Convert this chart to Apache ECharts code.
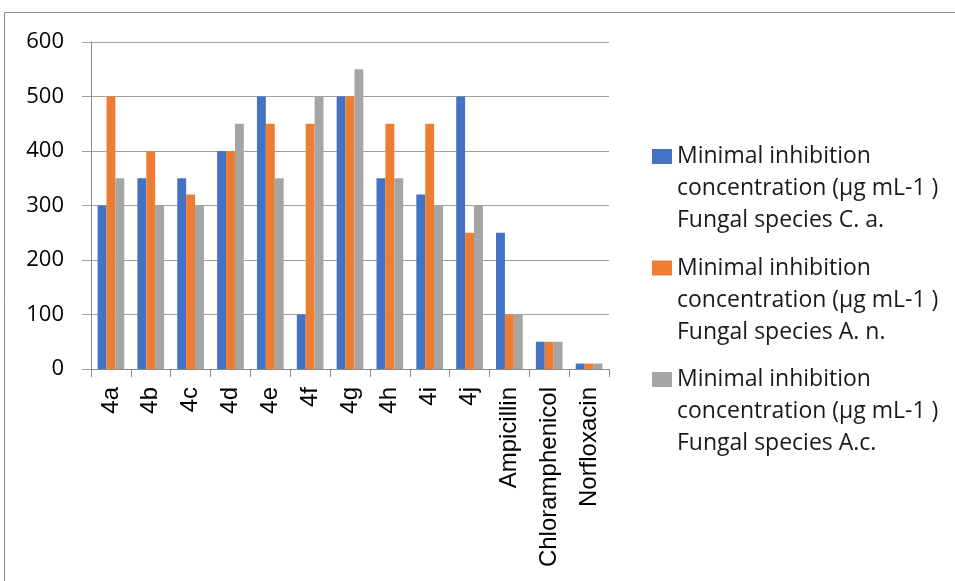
<!DOCTYPE html>
<html><head><meta charset="utf-8">
<script src="https://cdn.jsdelivr.net/npm/echarts@6/dist/echarts.min.js"></script>
<style>html,body{margin:0;padding:0;background:#fff}#c{width:955px;height:581px}</style>
</head><body><div id="c"></div>
<script>
var categories = ['4a','4b','4c','4d','4e','4f','4g','4h','4i','4j','Ampicillin','Chloramphenicol','Norfloxacin'];
var seriesNames = [
  'Minimal inhibition concentration (µg mL-1 ) Fungal species C. a.',
  'Minimal inhibition concentration (µg mL-1 ) Fungal species A. n.',
  'Minimal inhibition concentration (µg mL-1 ) Fungal species A.c.'
];
var legendLines = [
  ['Minimal inhibition','concentration (µg mL-1 )','Fungal species C. a.'],
  ['Minimal inhibition','concentration (µg mL-1 )','Fungal species A. n.'],
  ['Minimal inhibition','concentration (µg mL-1 )','Fungal species A.c.']
];
var valuesCa = [300,350,350,400,500,100,500,350,320,500,250,50,10];
var valuesAn = [500,400,320,400,450,450,500,450,450,250,100,50,10];
var valuesAc = [350,300,300,450,350,500,550,350,300,300,100,50,10];
var colors = ['#4472C4','#ED7D31','#A5A5A5'];
var yTicks = [0,100,200,300,400,500,600];

var FONT = 'Open Sans';
var chart = echarts.init(document.getElementById('c'), null, {renderer:'canvas'});
var allVals = [valuesCa, valuesAn, valuesAc];
var LH = 32;
var iconCenters = [156.5, 268, 379.5];
var option = {
  animation: false,
  color: colors,
  graphic: [{type:'rect', shape:{x:4.5,y:12.5,width:1000,height:700}, style:{fill:'none', stroke:'#8c8c8c', lineWidth:1}, silent:true}],
  grid: {left:91, right:346, top:42, bottom:212, containLabel:false},
  legend: seriesNames.map(function(n,i){
    return {
      data:[n], left:652, top:iconCenters[i] - 2.5*LH, orient:'vertical', padding:0,
      icon:'rect', itemWidth:20, itemHeight:15, itemGap:0,
      selectedMode:false,
      formatter:function(){ return '\n\n' + legendLines[i].join('\n'); },
      textStyle:{fontFamily:FONT, fontSize:23, color:'#1a1a1a', lineHeight:LH}
    };
  }),
  xAxis: {
    type:'category', data:categories,
    axisLine:{lineStyle:{color:'#8c8c8c'}},
    axisTick:{show:true, length:8, lineStyle:{color:'#8c8c8c'}},
    axisLabel:{interval:0, rotate:90, margin:18, fontFamily:'Liberation Sans', fontSize:24, color:'#000'}
  },
  yAxis: {
    type:'value', min:yTicks[0], max:yTicks[yTicks.length-1], interval:100,
    axisLine:{show:true, lineStyle:{color:'#8c8c8c'}},
    axisTick:{show:true, length:9, lineStyle:{color:'#a0a0a0'}},
    splitLine:{lineStyle:{color:'#a0a0a0'}},
    axisLabel:{margin:27, fontFamily:FONT, fontSize:22, color:'#000'}
  },
  series: seriesNames.map(function(n,i){
    return {name:n, type:'bar', data:allVals[i], barGap:'0%', barCategoryGap:'33%',
      itemStyle:{color:colors[i]}};
  })
};
chart.setOption(option);
</script></body></html>
